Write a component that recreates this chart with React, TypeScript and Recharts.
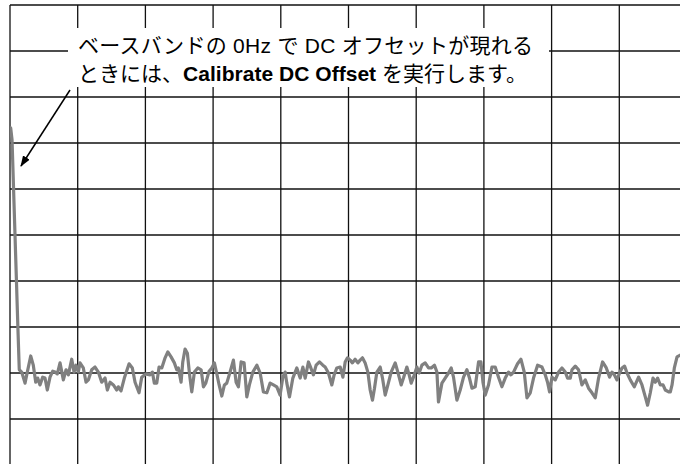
import { CartesianGrid, Line, LineChart, XAxis, YAxis } from 'recharts'

// trace: frequency (% of span) and level (dB)
const freq = [
  0, 0.1, 0.3, 1.2, 1.37, 1.73, 2.22, 2.47, 3.06, 3.44, 3.8, 4.09, 4.43, 4.83, 5.17, 5.51, 5.91, 6.31,
  6.65, 6.99, 7.39, 7.88, 8.28, 8.62, 9.12, 9.46, 9.75, 10.09, 10.34, 10.83, 11.23, 11.57, 12.07, 12.56,
  13.05, 13.55, 14.04, 14.38, 14.78, 15.27, 15.77, 16.0, 16.4, 16.89, 17.59, 18.07, 18.47, 19.06, 19.46,
  20.05, 20.69, 21.03, 21.32, 21.68, 22.02, 22.42, 22.91, 23.31, 23.79, 24.28, 24.63, 24.87, 25.27, 25.52,
  25.86, 26.2, 26.53, 26.85, 27.24, 27.74, 28.23, 28.57, 28.92, 29.41, 29.81, 30.19, 30.55, 30.89, 31.29,
  31.67, 32.02, 32.51, 33.0, 33.4, 33.74, 34.14, 34.58, 34.98, 35.36, 35.87, 36.46, 36.95, 37.43, 37.94,
  38.42, 38.91, 39.41, 39.9, 40.3, 40.64, 40.89, 41.28, 41.78, 42.37, 42.86, 43.26, 43.6, 44.08, 44.44,
  44.82, 45.22, 45.71, 46.21, 46.55, 47.04, 47.54, 47.88, 48.28, 48.77, 49.17, 49.51, 49.85, 50.25, 50.58,
  50.98, 51.38, 51.72, 52.06, 52.46, 52.86, 53.2, 53.54, 53.84, 54.19, 54.68, 55.02, 55.42, 55.82, 56.3,
  56.9, 57.29, 57.78, 58.12, 58.62, 58.96, 59.26, 59.6, 60.1, 60.44, 60.84, 61.33, 61.82, 62.22, 62.7,
  63.06, 63.29, 63.8, 64.28, 64.77, 65.17, 65.51, 66.01, 66.5, 66.99, 67.49, 67.87, 68.23, 68.72, 69.21,
  69.56, 69.86, 70.2, 70.68, 71.19, 71.67, 72.16, 72.66, 73.15, 73.64, 73.99, 74.38, 74.97, 75.47, 75.96,
  76.36, 76.85, 77.33, 77.93, 78.58, 79.06, 79.4, 79.7, 80.05, 80.54, 81.03, 81.53, 82.02, 82.36, 82.76,
  83.01, 83.5, 83.98, 84.48, 84.97, 85.46, 85.96, 86.45, 86.94, 87.53, 88.08, 88.57, 88.92, 89.26, 89.66,
  90.04, 90.4, 90.78, 91.14, 91.62, 92.21, 92.85, 93.35, 93.84, 94.18, 94.58, 94.98, 95.32, 95.66, 96.06,
  96.46, 96.8, 97.29, 97.54, 97.79, 98.13, 98.53, 99.01, 99.5,
]
const level = [
  -28.3, -26.7, -29.3, -71.7, -79.3, -79.8, -82.2, -80.4, -76.3, -78.3, -82.0, -81.1, -82.6, -80.9, -81.1,
  -83.7, -80.9, -79.6, -79.8, -80.2, -77.8, -81.5, -79.3, -80.4, -77.0, -79.8, -78.3, -79.8, -77.8, -78.9,
  -82.0, -81.5, -79.3, -78.7, -79.8, -82.0, -81.1, -83.7, -82.0, -82.6, -83.7, -83.0, -83.9, -81.1, -78.0,
  -78.9, -82.0, -84.3, -80.9, -80.2, -80.4, -79.8, -82.2, -82.2, -78.7, -78.9, -76.7, -75.4, -76.5, -77.8,
  -79.3, -78.9, -82.0, -77.6, -74.8, -75.7, -80.4, -84.1, -79.8, -78.9, -79.3, -83.0, -82.2, -79.6, -78.9,
  -77.8, -80.2, -82.6, -85.0, -82.6, -82.2, -79.8, -77.2, -82.0, -83.0, -77.6, -77.8, -85.2, -82.6, -79.8,
  -78.3, -80.0, -84.1, -84.3, -82.2, -82.6, -83.0, -84.8, -80.9, -79.8, -82.2, -85.2, -81.1, -78.9, -81.1,
  -78.7, -81.1, -77.6, -78.9, -80.4, -78.3, -77.6, -78.3, -78.7, -80.0, -82.6, -80.4, -78.9, -78.7, -80.9,
  -77.6, -76.7, -77.2, -77.8, -77.0, -77.8, -77.2, -76.7, -77.8, -79.8, -83.7, -85.9, -83.3, -79.8, -78.7,
  -81.1, -84.8, -82.6, -79.8, -77.8, -79.8, -82.6, -81.1, -78.7, -80.4, -82.2, -80.9, -78.7, -80.0, -78.3,
  -77.8, -78.9, -78.9, -78.3, -79.8, -86.3, -82.2, -81.1, -80.0, -78.9, -80.9, -85.9, -83.7, -80.9, -79.3,
  -81.1, -83.3, -83.0, -77.6, -77.6, -82.0, -84.8, -82.6, -78.7, -78.7, -80.9, -83.0, -81.1, -79.8, -80.4,
  -79.8, -78.0, -77.0, -79.8, -85.4, -84.3, -81.1, -78.3, -78.7, -80.4, -82.0, -84.1, -80.9, -81.5, -79.8,
  -78.9, -79.8, -81.1, -81.1, -79.3, -78.5, -79.3, -82.6, -81.5, -83.3, -84.3, -85.4, -81.1, -77.6, -78.9,
  -80.9, -79.8, -80.4, -81.5, -80.0, -78.9, -78.5, -80.0, -81.5, -83.0, -80.9, -82.6, -85.2, -87.0, -84.3,
  -81.1, -82.0, -81.1, -82.6, -82.6, -83.7, -84.1, -84.1, -82.6, -78.9, -76.5, -76.1, -76.1,
]

const freqTicks = [0, 10, 20, 30, 40, 50, 60, 70, 80, 90, 100]
const levelTicks = [-100, -90, -80, -70, -60, -50, -40, -30, -20, -10, 0]

const data = freq.map((x, i) => ({ x, y: level[i] }))

const font = "'Liberation Sans', 'Noto Sans CJK JP', sans-serif"

export default function App() {
  return (
    <div style={{ position: 'absolute', left: 0, top: 0, width: 680, height: 464, overflow: 'hidden', background: '#fff' }}>
      <LineChart width={700} height={480} data={data} margin={{ top: 5, right: 13, bottom: 15, left: 10 }}>
        <CartesianGrid stroke="#111" strokeWidth={1.3} />
        <XAxis type="number" dataKey="x" domain={[0, 100]} ticks={freqTicks} hide allowDataOverflow />
        <YAxis type="number" domain={[-100, 0]} ticks={levelTicks} hide allowDataOverflow />
        <Line
          type="linear"
          dataKey="y"
          stroke="#808080"
          strokeWidth={3.2}
          strokeLinejoin="round"
          strokeLinecap="round"
          dot={false}
          isAnimationActive={false}
        />
      </LineChart>
      <svg width={680} height={464} style={{ position: 'absolute', left: 0, top: 0, pointerEvents: 'none' }}>
        <defs>
          <marker id="head" markerWidth="11" markerHeight="8" refX="10" refY="4" orient="auto" markerUnits="userSpaceOnUse">
            <path d="M0,0 L11,4 L0,8 z" fill="#000" />
          </marker>
        </defs>
        <rect x={68} y={28} width={481} height={59} fill="#fff" />
        <text x={78} y={53} fontSize={21} fontFamily={font} fill="#000" textLength={455} lengthAdjust="spacing">
          ベースバンドの 0Hz で DC オフセットが現れる
        </text>
        <text x={78} y={81} fontSize={21} fontFamily={font} fill="#000" textLength={449} lengthAdjust="spacing">
          ときには、<tspan fontWeight="bold">Calibrate DC Offset</tspan> を実行します。
        </text>
        <line x1={70} y1={90} x2={21} y2={166} stroke="#000" strokeWidth={1.5} markerEnd="url(#head)" />
      </svg>
    </div>
  )
}
